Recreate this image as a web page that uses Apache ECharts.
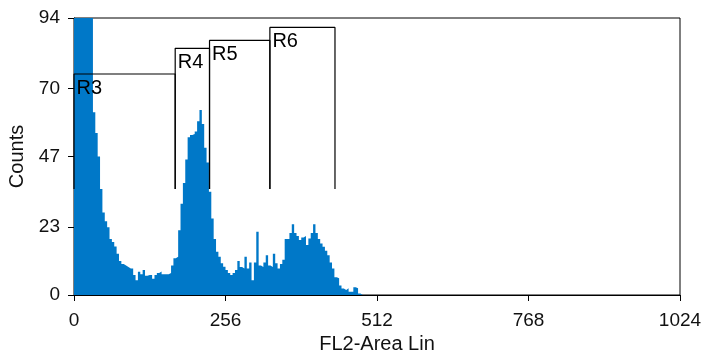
<!DOCTYPE html>
<html>
<head>
<meta charset="utf-8">
<script src="https://cdn.jsdelivr.net/npm/echarts@6/dist/echarts.min.js"></script>
<style>
  html, body { margin: 0; padding: 0; background: #fff; }
  #chart { width: 702px; height: 353px; }
</style>
</head>
<body>
<div id="chart"></div>
<script>
// FL2-Area histogram, 4-channel bins starting at channel 0
const binWidth = 4;
const counts = [
  260, 210, 175, 150, 132, 118, 106, 97, 62, 55,
  47, 36, 28, 25, 23, 19, 18, 16.5, 14, 11.5,
  10.5, 10, 9.5, 9, 9, 6.8, 5, 7.9, 7, 8.5,
  6.5, 6.8, 6.8, 5.5, 6.8, 7.5, 8, 7, 7, 7,
  7.5, 10, 12.5, 13, 22, 31, 38, 46, 53.5, 54.3,
  54.6, 55.5, 59, 62.8, 58, 50, 45, 35, 26, 19,
  14.7, 13, 10.8, 9.6, 8.5, 7.5, 6.8, 7.5, 8.5, 11.5,
  9.5, 9, 13, 9, 11, 5, 11, 21.5, 10, 9.5,
  11, 13.5, 10, 9.5, 14, 10.8, 9, 10.5, 12, 19,
  19, 21, 24, 21, 20, 18.7, 19.5, 20, 17, 19.2,
  21, 24, 21, 19, 17.5, 16.4, 15, 13.5, 11, 9,
  6, 5.7, 3.2, 2.2, 1.7, 2.3, 1.1, 1.1, 2.6, 2.3,
  0.5, 0
];

// gates (regions) in channel / count units
const gateNames = ["R3", "R4", "R5", "R6"];
const gateStart = [0, 171, 229, 331];
const gateEnd = [171, 229, 331, 441];
const gateLevel = [75, 83.7, 86.4, 90.8];
const gateBottom = 36;

const yTicks = [0, 23, 47, 70, 94];
const xMax = 1024;
const yMax = 94;

const histData = counts.map((c, i) => [i * binWidth, c]);
histData.push([counts.length * binWidth, 0]);

const font = "'Liberation Sans', Arial, sans-serif";
const textColor = "#111";

const gateSeries = gateNames.map((name, i) => ({
  name: name,
  type: "line",
  symbol: "none",
  z: 5,
  lineStyle: { color: "#000", width: 1.2 },
  data: [
    [gateStart[i], gateBottom],
    [gateStart[i], gateLevel[i]],
    [gateEnd[i], gateLevel[i]],
    [gateEnd[i], gateBottom],
  ],
}));

const chart = echarts.init(document.getElementById("chart"));

chart.setOption({
  animation: false,
  backgroundColor: "#fff",
  grid: {
    left: 74,
    right: 22,
    top: 18,
    bottom: 58,
    outerBoundsMode: "none",
    containLabel: false,
    show: true,
    borderColor: "#000",
    borderWidth: 1,
  },
  xAxis: {
    type: "value",
    min: 0,
    max: xMax,
    interval: 256,
    name: "FL2-Area Lin",
    nameLocation: "middle",
    nameGap: 36,
    nameTextStyle: { fontFamily: font, fontSize: 20, color: textColor },
    axisLine: { lineStyle: { color: "#000", width: 1 } },
    axisTick: { length: 6, lineStyle: { color: "#000" } },
    axisLabel: {
      fontFamily: font, fontSize: 19, color: textColor, margin: 16,
      formatter: (v) => String(v),
    },
    splitLine: { show: false },
  },
  yAxis: {
    type: "value",
    min: 0,
    max: yMax,
    name: "Counts",
    nameLocation: "middle",
    nameGap: 38,
    nameTextStyle: { fontFamily: font, fontSize: 20, color: textColor },
    axisLine: { show: true, lineStyle: { color: "#000", width: 1 } },
    axisTick: { show: true, length: 6, customValues: yTicks, lineStyle: { color: "#000" } },
    axisLabel: { fontFamily: font, fontSize: 19, color: textColor, margin: 14, customValues: yTicks },
    splitLine: { show: false },
  },
  series: [
    {
      name: "Counts",
      type: "line",
      step: "end",
      symbol: "none",
      clip: true,
      lineStyle: { width: 0, color: "#0078c8" },
      areaStyle: { color: "#0078c8", opacity: 1 },
      data: histData,
    },
    ...gateSeries,
    {
      name: "gate labels",
      type: "scatter",
      symbolSize: 1,
      z: 6,
      itemStyle: { color: "transparent" },
      label: {
        show: true,
        position: [3, 5],
        formatter: (p) => p.value[2],
        fontFamily: font,
        fontSize: 20,
        color: "#000",
        opacity: 1,
      },
      emphasis: { disabled: true },
      data: gateNames.map((n, i) => [gateStart[i], gateLevel[i], n]),
    },
  ],
});
</script>
</body>
</html>
